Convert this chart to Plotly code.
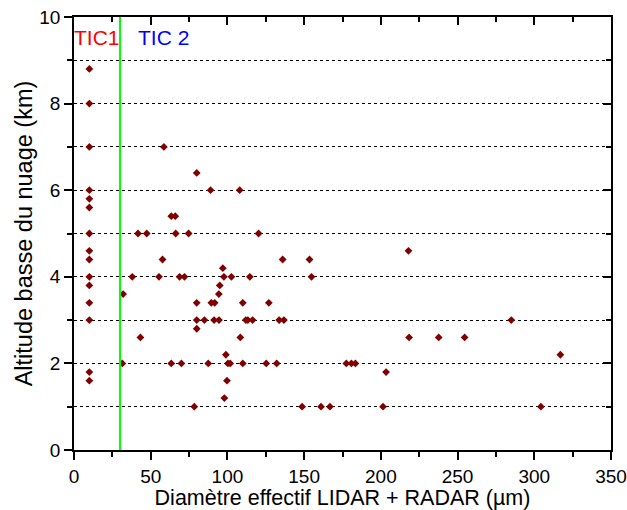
import plotly.graph_objects as go

# --- data ---
tic_x = [10] * 15
tic_y = [8.8, 8, 7, 6, 5.8, 5.6, 5, 4.6, 4.4, 4, 3.8, 3.4, 3, 1.8, 1.6]

diam = [58.6, 80, 89, 108, 63.4, 66, 41.7, 47.4, 66.3, 74.7, 120.3, 57.7, 136, 153.5, 218,
        97, 38, 55.4, 68.8, 72, 97.7, 102.6, 114.6, 154.8, 95, 32, 94.4,
        80, 89.5, 91.7, 110, 127, 80, 85, 91.3, 94.5, 112, 113.3, 116.4, 133.7, 136.8, 285,
        80, 43.3, 108.4, 218.4, 237.7, 254.6, 99, 317,
        31.5, 63.4, 70, 87.5, 100.3, 101.8, 110, 125.3, 132.1, 177.5, 180.8, 183.4,
        203.4, 99.7, 98, 78.4, 148.7, 161, 166.8, 201.4, 304.3]
alt = [7, 6.4, 6, 6, 5.4, 5.4, 5, 5, 5, 5, 5, 4.4, 4.4, 4.4, 4.6,
       4.2, 4, 4, 4, 4, 4, 4, 4, 4, 3.8, 3.6, 3.6,
       3.4, 3.4, 3.4, 3.4, 3.4, 3, 3, 3, 3, 3, 3, 3, 3, 3, 3,
       2.8, 2.6, 2.6, 2.6, 2.6, 2.6, 2.2, 2.2,
       2, 2, 2, 2, 2, 2, 2, 2, 2, 2, 2, 2,
       1.8, 1.6, 1.2, 1, 1, 1, 1, 1, 1]

TIC_THRESHOLD = 30
x_range = [0, 350]
y_range = [0, 10]
x_ticks = [0, 50, 100, 150, 200, 250, 300, 350]
y_ticks = [0, 2, 4, 6, 8, 10]

FONT = "Liberation Sans, Arial, sans-serif"
MARK = "#800000"

fig = go.Figure()
fig.add_trace(go.Scatter(x=tic_x + diam, y=tic_y + alt, mode="markers",
                         marker=dict(symbol="diamond", size=6, color=MARK),
                         showlegend=False, hoverinfo="x+y"))
# empty trace to hold the mirrored (top/right) axes with inside ticks
fig.add_trace(go.Scatter(x=[], y=[], xaxis="x2", yaxis="y2", showlegend=False))

fig.add_shape(type="line", x0=TIC_THRESHOLD, x1=TIC_THRESHOLD, y0=y_range[0], y1=y_range[1],
              xref="x", yref="y", line=dict(color="#00FF00", width=2))

fig.add_annotation(x=0, y=9.53, text="TIC1", xanchor="left", yanchor="middle", showarrow=False,
                   font=dict(family=FONT, size=21, color="#FF0000"), xshift=-2)
fig.add_annotation(x=41.6, y=9.53, text="TIC 2", xanchor="left", yanchor="middle", showarrow=False,
                   font=dict(family=FONT, size=21, color="#0000FF"), xshift=-2)

axis_common = dict(showline=True, linecolor="black", linewidth=1.5, zeroline=False,
                   tickcolor="black", tickwidth=1.5, automargin=False)

fig.update_layout(
    width=627, height=510,
    margin=dict(l=74, r=16, t=17, b=60),
    paper_bgcolor="white", plot_bgcolor="white",
    font=dict(family=FONT, size=19, color="black"),
    xaxis=dict(range=x_range, tickvals=x_ticks, ticks="outside", ticklen=8,
               minor=dict(dtick=25, ticks="outside", ticklen=5, tickcolor="black", tickwidth=1.5),
               showgrid=False,
               title=dict(text="Diamètre effectif LIDAR + RADAR (µm)", font=dict(size=21.5), standoff=0),
               tickfont=dict(size=19), **axis_common),
    yaxis=dict(range=y_range, tickvals=y_ticks, ticks="outside", ticklen=8,
               showgrid=True, gridcolor="black", griddash="dot", gridwidth=1,
               minor=dict(dtick=1, ticks="outside", ticklen=5, tickcolor="black", tickwidth=1.5,
                          showgrid=True, gridcolor="black", griddash="dot", gridwidth=1),
               title=dict(text="Altitude basse du nuage (km)", font=dict(size=23.5), standoff=0),
               tickfont=dict(size=19), **axis_common),
    xaxis2=dict(range=x_range, overlaying="x", side="top", anchor="y", tickvals=x_ticks,
                ticks="inside", ticklen=8, showticklabels=False, showgrid=False,
                minor=dict(dtick=25, ticks="inside", ticklen=5, tickcolor="black", tickwidth=1.5),
                **axis_common),
    yaxis2=dict(range=y_range, overlaying="y", side="right", anchor="x", tickvals=y_ticks,
                ticks="inside", ticklen=8, showticklabels=False, showgrid=False,
                minor=dict(dtick=1, ticks="inside", ticklen=5, tickcolor="black", tickwidth=1.5),
                **axis_common),
)

fig.write_html("out.html", config={"displayModeBar": False},
               post_script="document.body.style.margin='0';")
